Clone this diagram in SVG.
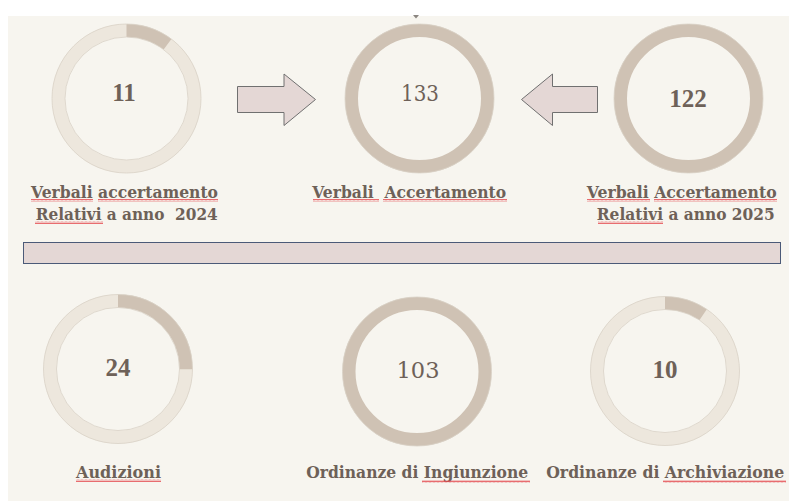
<svg xmlns="http://www.w3.org/2000/svg" width="789" height="501" viewBox="0 0 789 501">
<defs>
<pattern id="wave" x="0" y="0" width="4" height="3" patternUnits="userSpaceOnUse">
<path d="M0 2.4 L1 0.6 L2 2.4 L3 0.6 L4 2.4" fill="none" stroke="#E5484C" stroke-width="0.8"/>
</pattern>
<style>
.bg{fill:#F7F5EF}
.ringL{fill:none;stroke:#EDE7DD;stroke-width:13}
.ringD{fill:none;stroke:#CFC2B4;stroke-width:13}
.edge{fill:none;stroke:#D9D2C7;stroke-width:0.8}
.seg{fill:none;stroke:#CFC2B4;stroke-width:13}
.num{font-family:"Liberation Serif","DejaVu Serif",serif;font-weight:bold;font-size:25px;fill:#6E6158;text-anchor:middle}
.numR{font-family:"DejaVu Serif","Liberation Serif",serif;font-weight:normal;font-size:22px}
.lbl{font-family:"DejaVu Serif","Liberation Serif",serif;font-weight:bold;font-size:16px;fill:#6E6158;text-anchor:middle}
.arrow{fill:#E4D7D5;stroke:#707070;stroke-width:1}
.sq{fill:url(#wave)}
</style>
</defs>
<rect x="8" y="16" width="781" height="485" class="bg"/>
<polygon points="413,15 419,15 416,18.5" fill="#8A8580"/>

<g id="node-2024">
<circle cx="126.5" cy="98.5" r="68" class="ringL"/>
<circle cx="126.5" cy="98.5" r="68" class="seg" stroke-dasharray="44 400" transform="rotate(-90 126.5 98.5)"/>
<circle cx="126.5" cy="98.5" r="74.5" class="edge"/>
<circle cx="126.5" cy="98.5" r="61.5" class="edge"/>
<text x="124" y="101" class="num">11</text>
<text x="124.5" y="198" class="lbl" textLength="187" lengthAdjust="spacingAndGlyphs">Verbali accertamento</text>
<text x="126.7" y="220" class="lbl" xml:space="preserve" textLength="182" lengthAdjust="spacingAndGlyphs">Relativi a anno  2024</text>
<rect x="31" y="199" width="62" height="3" class="sq"/>
<rect x="98" y="199" width="120" height="3" class="sq"/>
<rect x="35" y="221" width="68" height="3" class="sq"/>
</g>

<g id="node-total">
<circle cx="419.5" cy="98.5" r="68" class="ringD"/>
<circle cx="419.5" cy="98.5" r="74.5" class="edge"/>
<text x="420" y="101" class="num numR" textLength="38" lengthAdjust="spacingAndGlyphs">133</text>
<text x="409.2" y="198" class="lbl" xml:space="preserve" textLength="194" lengthAdjust="spacingAndGlyphs">Verbali  Accertamento</text>
<rect x="313" y="199" width="66" height="3" class="sq"/>
<rect x="383" y="199" width="124" height="3" class="sq"/>
</g>

<g id="node-2025">
<circle cx="688.5" cy="98.5" r="68" class="ringD"/>
<circle cx="688.5" cy="98.5" r="74.5" class="edge"/>
<text x="688" y="107" class="num">122</text>
<text x="681.7" y="198" class="lbl" textLength="190" lengthAdjust="spacingAndGlyphs">Verbali Accertamento</text>
<text x="685.8" y="220" class="lbl" textLength="178" lengthAdjust="spacingAndGlyphs">Relativi a anno 2025</text>
<rect x="587" y="199" width="63" height="3" class="sq"/>
<rect x="654" y="199" width="123" height="3" class="sq"/>
<rect x="598" y="221" width="65" height="3" class="sq"/>
</g>

<g id="divider">
<rect x="23.5" y="242.5" width="757" height="21" fill="#E4D7D5" stroke="#4B5A78" stroke-width="1"/>
</g>

<g id="node-audizioni">
<circle cx="118" cy="369" r="68" class="ringL"/>
<circle cx="118" cy="369" r="68" class="seg" stroke-dasharray="106.8 400" transform="rotate(-90 118 369)"/>
<circle cx="118" cy="369" r="74.5" class="edge"/>
<circle cx="118" cy="369" r="61.5" class="edge"/>
<text x="118" y="376" class="num">24</text>
<text x="118.5" y="478" class="lbl" textLength="85" lengthAdjust="spacingAndGlyphs">Audizioni</text>
<rect x="76" y="479" width="85" height="3" class="sq"/>
</g>

<g id="node-ingiunzione">
<circle cx="417" cy="371.5" r="68" class="ringD"/>
<circle cx="417" cy="371.5" r="74.5" class="edge"/>
<text x="418" y="378" class="num numR" textLength="43" lengthAdjust="spacingAndGlyphs">103</text>
<text x="417.2" y="478" class="lbl" textLength="222" lengthAdjust="spacingAndGlyphs">Ordinanze di Ingiunzione</text>
<rect x="422" y="480" width="108" height="3" class="sq"/>
</g>

<g id="node-archiviazione">
<circle cx="665" cy="371" r="68" class="ringL"/>
<circle cx="665" cy="371" r="68" class="seg" stroke-dasharray="40.5 400" transform="rotate(-90 665 371)"/>
<circle cx="665" cy="371" r="74.5" class="edge"/>
<circle cx="665" cy="371" r="61.5" class="edge"/>
<text x="665" y="378" class="num">10</text>
<text x="665.2" y="478" class="lbl" textLength="238" lengthAdjust="spacingAndGlyphs">Ordinanze di Archiviazione</text>
<rect x="663" y="480" width="123" height="3" class="sq"/>
</g>

<g id="connectors">
<polygon class="arrow" points="237.5,86.5 284,86.5 284,74 315.5,99.5 284,125.5 284,112.5 237.5,112.5"/>
<polygon class="arrow" points="597.5,86.5 552.5,86.5 552.5,74 521.5,99.5 552.5,125.5 552.5,112.5 597.5,112.5"/>
</g>
</svg>
